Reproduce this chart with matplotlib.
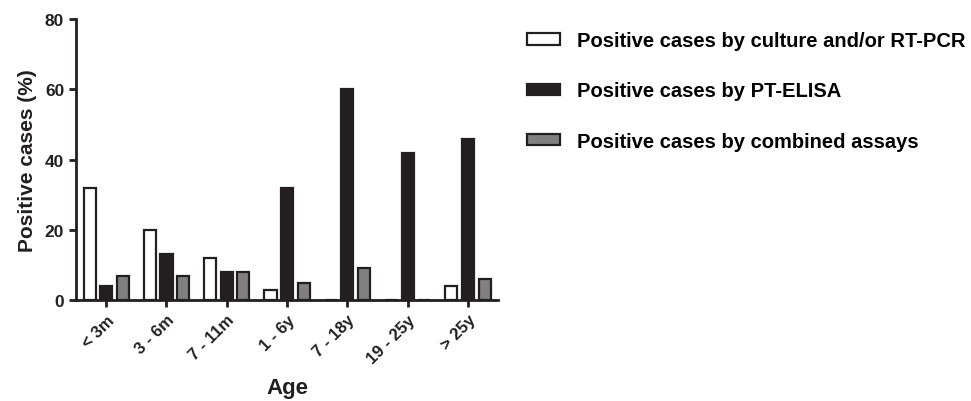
import numpy as np
import matplotlib.pyplot as plt

plt.rcParams['font.family'] = ['Liberation Sans', 'DejaVu Sans']
plt.rcParams['font.weight'] = 'bold'

ages = ['< 3m', '3 - 6m', '7 - 11m', '1 - 6y', '7 - 18y', '19 - 25y', '> 25y']
culture_pcr = [32, 20, 12, 3, 0, 0, 4]
pt_elisa = [4, 13, 8, 32, 60, 42, 46]
combined = [7, 7, 8, 5, 9, 0, 6]

labels = ['Positive cases by culture and/or RT-PCR',
          'Positive cases by PT-ELISA',
          'Positive cases by combined assays']


def main():
    fig = plt.figure(figsize=(9.71, 4.02), dpi=100)
    ax = fig.add_axes([0.0783, 0.251, 0.4347, 0.699])

    x = np.arange(len(ages))
    w = 0.2
    off = 0.275
    edge = '#231f20'
    series = [(culture_pcr, 'white'), (pt_elisa, '#231f20'), (combined, '#808080')]
    for i, (vals, col) in enumerate(series):
        ax.bar(x + (i - 1) * off, vals, width=w, color=col, edgecolor=edge,
               linewidth=1.6, label=labels[i])

    ax.set_xlim(-0.5, 6.5)
    ax.set_ylim(0, 80)
    ax.set_yticks([0, 20, 40, 60, 80])
    ax.set_xticks(x)
    ax.set_xticklabels(ages, rotation=45, ha='right', rotation_mode='anchor',
                       fontsize=12, fontweight='bold')
    for t in ax.get_yticklabels():
        t.set_fontsize(12.5)
        t.set_fontweight('bold')
    ax.spines['top'].set_visible(False)
    ax.spines['right'].set_visible(False)
    for s in ['left', 'bottom']:
        ax.spines[s].set_linewidth(2)
        ax.spines[s].set_color(edge)
    ax.tick_params(axis='both', width=2, length=5, color=edge, labelcolor=edge)
    ax.set_ylabel('Positive cases (%)', fontsize=15, fontweight='bold', color=edge,
                  labelpad=6)
    ax.set_xlabel('Age', fontsize=16, fontweight='bold', color=edge, labelpad=8)

    handles, labs = ax.get_legend_handles_labels()
    fig.legend(handles, labs, loc='upper left', bbox_to_anchor=(0.524, 0.965),
               frameon=False, fontsize=14.5, labelspacing=1.55, handlelength=1.65,
               handleheight=0.5, handletextpad=0.85)

    fig.savefig('out.png', dpi=100)


if __name__ == "__main__":
    main()
